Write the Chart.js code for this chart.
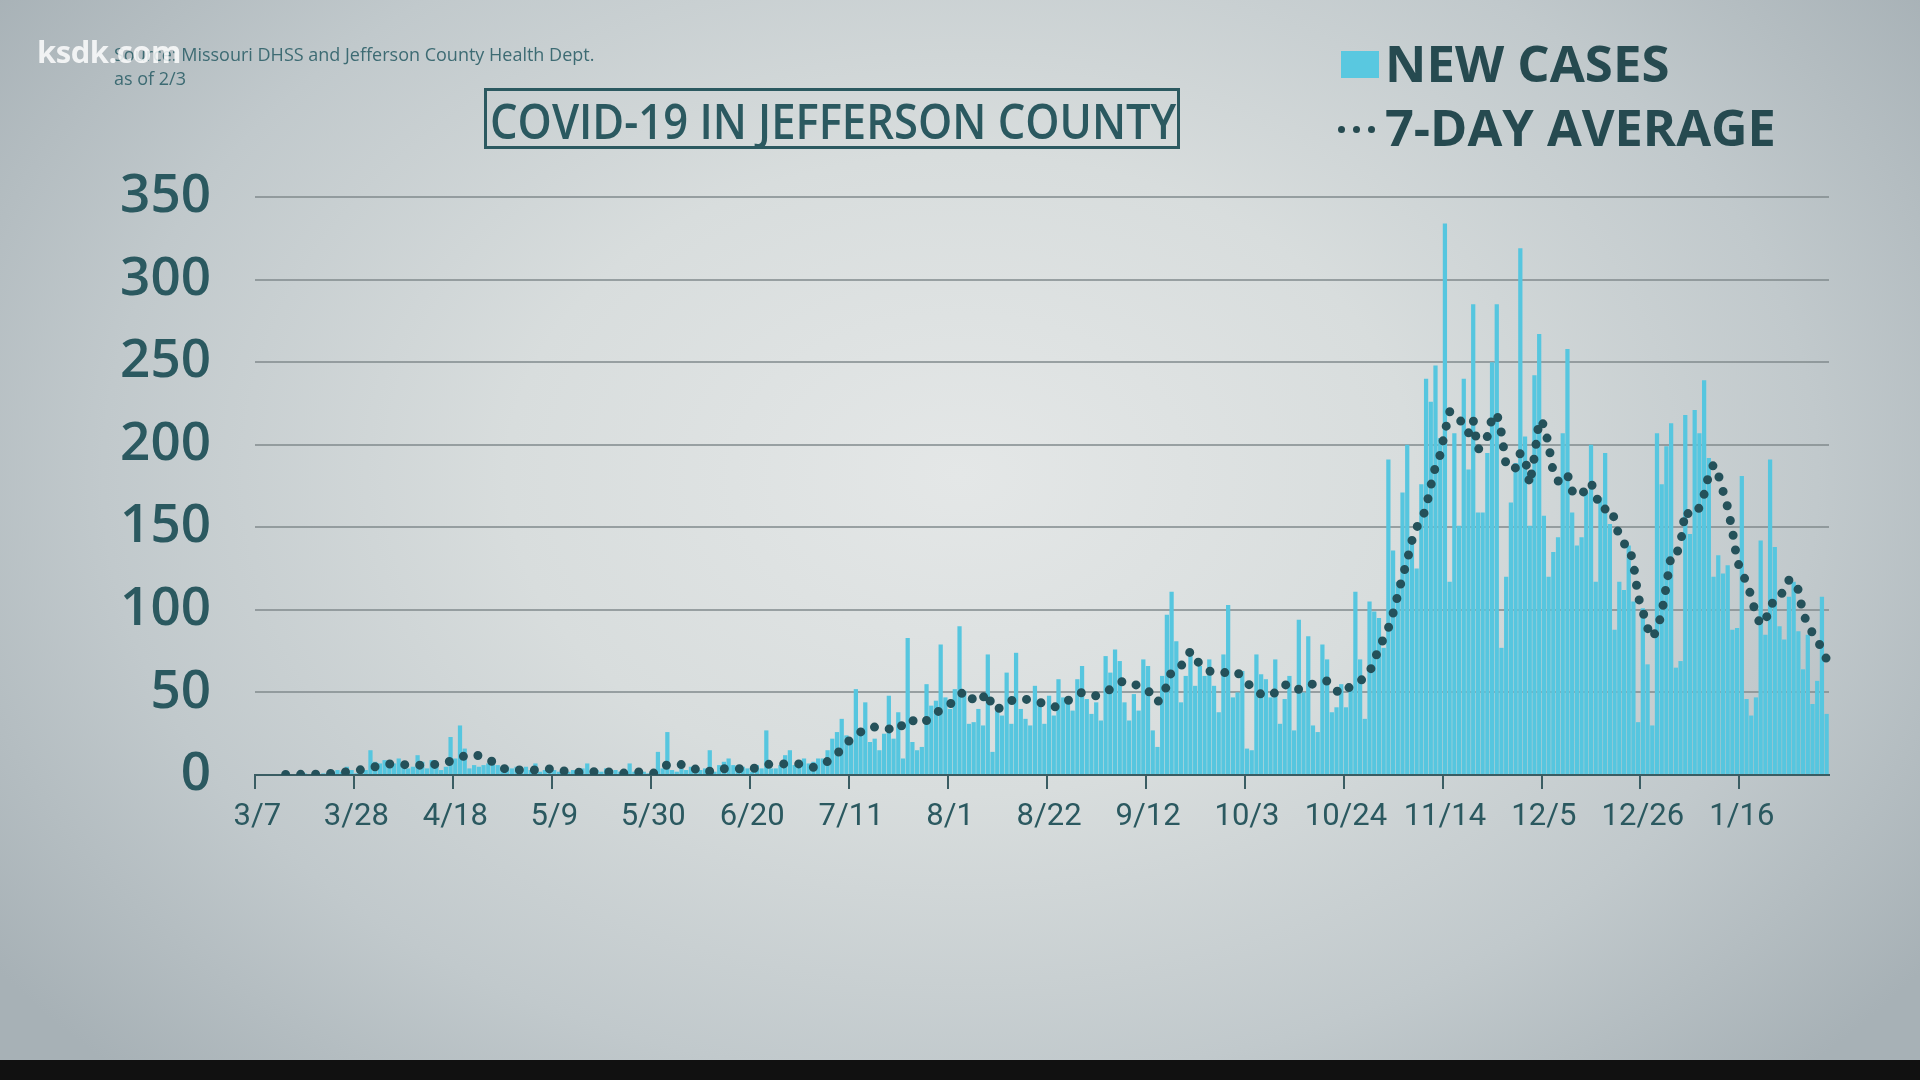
<!DOCTYPE html>
<html>
<head>
<meta charset="utf-8">
<script src="https://cdn.jsdelivr.net/npm/chart.js@4"></script>
<style>
  html, body { margin: 0; padding: 0; }
  body {
    width: 1920px; height: 1080px; position: relative; overflow: hidden;
    background: radial-gradient(ellipse 62% 78% at 50% 44%, #e4e7e7 0%, #d8dddd 38%, #c1c9cc 72%, #a7b1b6 100%);
    font-family: "Open Sans", sans-serif;
  }
  #chart { position: absolute; left: 0; top: 0; }
  .fit { position: absolute; white-space: nowrap; transform-origin: 0 0; line-height: 1; }
  #src { position: absolute; left: 114px; top: 42px; font-size: 18px; font-weight: 400; color: #3d6b73; line-height: 24px; white-space: nowrap; }
  #ksdk { position: absolute; left: 37px; top: 30px; font-size: 31px; font-weight: 700; color: rgba(255,255,255,0.82); font-family: "Open Sans", sans-serif; letter-spacing: -0.5px; }
  #titlebox { position: absolute; left: 484px; top: 88px; width: 690px; height: 55px; border: 3px solid #2b5960; }
  #title { font-size: 48px; font-weight: 600; color: #2b5960; top: 6px; left: 3px; }
  #legsq { position: absolute; left: 1341px; top: 51px; width: 38px; height: 27px; background: #59c8e0; }
  #leg1 { left: 1385px; top: 38px; font-size: 50px; font-weight: 700; color: #264a50; }
  #leg2 { left: 1385px; top: 101px; font-size: 51px; font-weight: 700; color: #264a50; }
  .dot { position: absolute; width: 7px; height: 7px; border-radius: 50%; background: #264a50; top: 126px; }
  #bottombar { position: absolute; left: 0; top: 1060px; width: 1920px; height: 20px; background: #111; }
</style>
</head>
<body>
<canvas id="chart" width="1920" height="1080"></canvas>
<div id="src">Source: Missouri DHSS and Jefferson County Health Dept.<br>as of 2/3</div>
<div id="ksdk">ksdk.com</div>
<div id="titlebox"><div class="fit" id="title">COVID-19 IN JEFFERSON COUNTY</div></div>
<div id="legsq"></div>
<div class="fit" id="leg1">NEW CASES</div>
<div class="dot" style="left:1338px"></div>
<div class="dot" style="left:1353px"></div>
<div class="dot" style="left:1368px"></div>
<div class="fit" id="leg2">7-DAY AVERAGE</div>
<div id="bottombar"></div>
<script>
// daily values, 3/7/2020 .. 2/3/2021
const startDate = new Date(2020, 2, 7);
const dayCount = 334;
const dates = [];
for (let i = 0; i < dayCount; i++) {
  const d = new Date(startDate.getFullYear(), startDate.getMonth(), startDate.getDate() + i);
  dates.push((d.getMonth() + 1) + '/' + d.getDate());
}

const newCases = [
  0,0,0,0,0,0,0,0,0,0,
  1,0,1,0,1,1,2,3,2,5,
  3,1,2,3,15,8,7,9,8,7,
  10,5,4,5,12,8,4,9,5,3,
  5,23,10,30,16,4,6,5,6,7,
  7,6,5,5,4,5,3,5,3,7,
  2,3,2,3,2,3,2,3,2,4,
  7,2,3,2,4,2,3,2,3,7,
  2,3,2,1,3,14,4,26,3,2,
  4,3,5,2,3,4,15,2,6,8,
  10,6,3,5,4,2,6,4,27,4,
  4,6,12,15,6,8,10,7,8,10,
  10,15,22,26,34,24,21,52,25,44,
  20,22,15,25,48,22,38,10,83,20,
  15,17,55,42,45,79,47,40,52,90,
  51,31,32,40,30,73,14,39,36,62,
  31,74,40,34,30,54,44,31,48,36,
  58,47,43,39,58,66,46,37,44,33,
  72,62,76,69,44,33,49,39,70,66,
  27,17,60,97,111,81,44,60,73,54,
  66,60,70,54,38,73,103,47,50,63,
  16,15,73,61,58,47,70,31,46,60,
  27,94,50,84,30,26,79,70,38,41,
  55,41,54,111,70,34,105,99,95,77,
  191,136,117,171,200,144,125,176,240,226,
  248,204,334,117,207,151,240,185,285,159,
  159,195,250,285,77,120,165,189,319,205,
  151,242,267,157,120,135,144,207,258,159,
  139,144,171,200,117,168,195,152,88,117,
  112,139,105,32,101,67,30,207,176,199,
  213,65,69,218,146,221,207,239,192,120,
  133,122,127,88,89,181,46,36,47,142,
  85,191,138,90,82,108,117,87,64,85,
  43,57,108,37
];

const sevenDayAvg = [
  null,null,null,null,null,null,0.3,0.3,0.3,0.4,
  0.4,0.4,0.5,0.5,0.6,0.8,1,1.3,1.6,2,
  2.3,2.6,3.2,3.8,4.4,5,5.6,6.2,6.7,6.6,
  6.5,6.3,6.2,6.1,6,5.9,6.1,6.3,6.5,6.7,
  7.5,8.4,9.4,10.5,11.6,12.5,12.5,11.6,10.6,9.7,
  7.8,5.8,4,3.6,3.3,3,3,3,3,3,
  3.2,3.4,3.7,3.8,3.2,2.5,1.8,1.4,1.6,1.8,
  2,2,2,2,2,1.7,1.4,1.1,1.2,1.4,
  1.6,1.8,1.5,1.2,1,2.8,4.6,6.2,6.7,6.5,
  6.3,6,4.8,3.5,2.3,1.6,2.3,3,3.7,3.8,
  3.8,3.8,3.8,3.8,3.8,3.8,4.5,5.4,6.2,6.7,
  6.7,6.7,6.7,6.7,6.7,6.7,6,5.2,4.7,5.8,
  7,8.2,10.5,13,15.6,19,22,24,26,28,
  29,29,29,29,28,27,27,31,34,33,
  32,31,33,35,37,40,42,43,45,48,
  51,49,45,44,47,50,40,40,41,43,
  45,46,46,46,45,45,44,43,42,41,
  42,44,45,47,49,50,49,48,48,49,
  50,52,54,56,57,56,55,54,53,51,
  48,44,48,54,63,65,66,70,75,71,
  67,65,63,62,62,62,62,63,62,59,
  56,53,50,49,48,48,50,52,55,53,
  51,52,53,55,55,56,56,57,54,51,
  49,51,54,56,57,59,62,70,76,83,
  89,98,109,120,130,142,150,154,162,175,
  187,194,208,220,219,215,213,207,215,197,
  200,205,216,219,207,187,185,186,195,192,
  176,193,215,212,200,183,178,178,182,172,
  170,169,175,177,170,161,161,162,155,144,
  140,139,128,108,99,89,83,88,98,115,
  133,133,140,160,157,158,162,170,182,188,
  182,172,162,148,130,122,117,108,97,91,
  93,103,105,106,114,118,118,112,98,91,
  86,82,76,70
];

const labelEvery = 21;
const yTicks = [0, 50, 100, 150, 200, 250, 300, 350];

const teal = '#2b5960';

new Chart(document.getElementById('chart'), {
  type: 'bar',
  data: {
    labels: dates,
    datasets: [
      {
        type: 'line',
        label: '7-DAY AVERAGE',
        data: sevenDayAvg,
        borderColor: '#24515a',
        borderWidth: 9,
        borderDash: [0, 15],
        borderCapStyle: 'round',
        pointRadius: 0,
        tension: 0,
        fill: false,
        order: 0
      },
      {
        label: 'NEW CASES',
        data: newCases,
        backgroundColor: '#56c6df',
        categoryPercentage: 1,
        barPercentage: 0.9,
        order: 1
      }
    ]
  },
  options: {
    responsive: false,
    animation: false,
    layout: { padding: { top: 197, right: 91, bottom: 245, left: 0 } },
    plugins: {
      legend: { display: false },
      tooltip: { enabled: false }
    },
    scales: {
      x: {
        offset: true,
        grid: {
          offset: true,
          drawOnChartArea: false,
          drawTicks: true,
          tickLength: 14,
          lineWidth: 2,
          color: ctx => (ctx.index % labelEvery === 0 && ctx.index < dayCount) ? '#3a5d63' : 'transparent'
        },
        border: { display: true, color: '#3a5d63', width: 2 },
        ticks: {
          autoSkip: false,
          maxRotation: 0,
          minRotation: 0,
          padding: 10,
          color: teal,
          font: { family: 'Roboto', size: 31 },
          callback: (v, i) => (i % labelEvery === 0 ? dates[i] : '')
        },
        afterFit: s => { s.height = 60; }
      },
      y: {
        min: 0,
        max: 350,
        afterBuildTicks: s => { s.ticks = yTicks.map(v => ({ value: v })); },
        grid: { color: 'rgba(128,137,140,0.75)', lineWidth: 2, drawTicks: false },
        border: { display: false },
        ticks: {
          padding: 44,
          color: teal,
          font: { family: 'Open Sans', size: 53, weight: '600' }
        },
        afterFit: s => { s.width = 255; }
      }
    }
  }
});

// squeeze the condensed headline texts to their measured widths
function fitWidth(id, w) {
  const el = document.getElementById(id);
  el.style.transform = 'scaleX(' + (w / el.scrollWidth) + ')';
}
fitWidth('title', 686);
fitWidth('leg1', 284);
fitWidth('leg2', 391);
</script>
</body>
</html>
